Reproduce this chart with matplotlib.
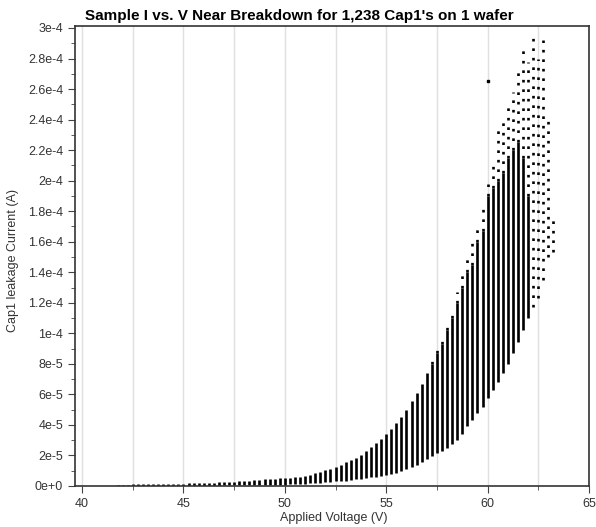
import numpy as np
import matplotlib.pyplot as plt
from matplotlib.ticker import FixedLocator, FixedFormatter

plt.rcParams['font.family'] = ['Liberation Sans', 'DejaVu Sans']

# -------------------------------
# Data (currents in uA)
# each voltage step: lowest reading, top of the dense band, highest reading
# -------------------------------
volts = [41.75, 42.00, 42.25, 42.50, 42.75, 43.00, 43.25, 43.50, 43.75, 44.00,
         44.25, 44.50, 44.75, 45.00, 45.25, 45.50, 45.75, 46.00, 46.25, 46.50,
         46.75, 47.00, 47.25, 47.50, 47.75, 48.00, 48.25, 48.50, 48.75, 49.00,
         49.25, 49.50, 49.75, 50.00, 50.25, 50.50, 50.75, 51.00, 51.25, 51.50,
         51.75, 52.00, 52.25, 52.50, 52.75, 53.00, 53.25, 53.50, 53.75, 54.00,
         54.25, 54.50, 54.75, 55.00, 55.25, 55.50, 55.75, 56.00, 56.25, 56.50,
         56.75, 57.00, 57.25, 57.50, 57.75, 58.00, 58.25, 58.50, 58.75, 59.00,
         59.25, 59.50, 59.75, 60.00, 60.25, 60.50, 60.75, 61.00, 61.25, 61.50,
         61.75, 62.00, 62.25, 62.50, 62.75, 63.00, 63.25]

low_ua = [0.3, 0.3, 0.3, 0.3, 0.3, 0.3, 0.3, 0.3, 0.3, 0.3,
          0.3, 0.3, 0.3, 0.3, 0.3, 0.3, 0.3, 0.3, 0.3, 0.3,
          0.3, 0.4, 0.4, 0.4, 0.4, 0.4, 0.4, 0.5, 0.5, 0.5,
          0.5, 0.6, 0.7, 0.8, 1.0, 1.2, 1.4, 1.6, 1.8, 2.0,
          2.2, 2.4, 2.7, 3.0, 3.3, 3.6, 4.0, 4.4, 4.8, 5.2,
          5.6, 6.0, 6.5, 7.0, 7.8, 8.8, 10.0, 11.2, 12.5, 14.0,
          15.8, 17.5, 19.5, 21.5, 23.0, 25.0, 27.5, 30.0, 34.0, 39.0,
          43.0, 48.0, 52.0, 57.5, 63.0, 68.0, 74.0, 80.0, 87.0, 94.0,
          102.0, 110.0, 117.0, 123.0, 135.0, 150.0, 153.0]

dense_ua = [0.9, 0.9, 0.9, 1.0, 1.0, 1.0, 1.0, 1.0, 1.1, 1.1,
            1.1, 1.2, 1.2, 1.3, 1.7, 1.8, 1.9, 2.0, 2.1, 2.2,
            2.3, 2.5, 2.7, 2.9, 3.1, 3.3, 3.5, 3.7, 4.0, 4.3,
            4.5, 4.7, 5.0, 5.2, 5.5, 5.8, 6.1, 6.6, 7.5, 8.4,
            9.2, 10.3, 11.4, 12.5, 14.0, 15.4, 16.8, 18.6, 20.6, 22.8,
            25.3, 28.0, 31.0, 34.0, 37.5, 41.0, 45.0, 50.0, 55.5, 61.0,
            67.0, 74.0, 80.0, 87.0, 93.0, 102.0, 110.0, 120.0, 130.0, 140.0,
            145.0, 160.0, 167.0, 190.0, 195.0, 200.0, 205.0, 215.0, 220.0, 225.0,
            215.0, 190.0, 117.0, 123.0, 135.0, 150.0, 153.0]

high_ua = [0.9, 0.9, 0.9, 1.0, 1.0, 1.0, 1.0, 1.0, 1.1, 1.1,
           1.1, 1.2, 1.2, 1.3, 1.7, 1.8, 1.9, 2.0, 2.1, 2.2,
           2.3, 2.5, 2.7, 2.9, 3.1, 3.3, 3.5, 3.7, 4.0, 4.3,
           4.5, 4.7, 5.0, 5.2, 5.5, 5.8, 6.1, 6.6, 7.5, 8.4,
           9.2, 10.3, 11.4, 12.5, 14.0, 15.4, 16.8, 18.6, 20.6, 22.8,
           25.3, 28.0, 31.0, 34.0, 37.5, 41.0, 45.0, 50.0, 55.5, 61.0,
           67.0, 74.0, 82.0, 92.0, 98.0, 107.0, 116.0, 127.0, 138.0, 150.0,
           160.0, 172.0, 185.0, 198.0, 212.0, 234.0, 242.0, 250.0, 258.0, 275.0,
           286.0, 278.0, 294.0, 280.0, 292.0, 239.0, 175.0]

# single stray reading
outlier_v = [60.0]
outlier_ua = [265.0]

ytick_vals = [0, 2e-5, 4e-5, 6e-5, 8e-5, 1e-4, 1.2e-4, 1.4e-4, 1.6e-4,
              1.8e-4, 2e-4, 2.2e-4, 2.4e-4, 2.6e-4, 2.8e-4, 3e-4]
ytick_labels = ['0e+0', '2e-5', '4e-5', '6e-5', '8e-5', '1e-4', '1.2e-4',
                '1.4e-4', '1.6e-4', '1.8e-4', '2e-4', '2.2e-4', '2.4e-4',
                '2.6e-4', '2.8e-4', '3e-4']
xtick_vals = [40, 45, 50, 55, 60, 65]

low = np.array(low_ua) * 1e-6
dense = np.array(dense_ua) * 1e-6
high = np.array(high_ua) * 1e-6

# -------------------------------
# Plot
# -------------------------------
fig = plt.figure(figsize=(5.96, 5.27), dpi=100)
ax = fig.add_axes([0.1258, 0.0778, 0.8624, 0.8729])

ax.vlines(volts, low, dense, colors='black', lw=1.9)
ax.vlines(volts, dense, high, colors='black', lw=1.9, linestyles=(0, (1, 2.6)))
ax.plot(outlier_v, np.array(outlier_ua) * 1e-6, 's', ms=2, color='black')

ax.set_xlim(39.65, 65)
ax.set_ylim(0, 3.013e-4)

ax.xaxis.set_major_locator(FixedLocator(xtick_vals))
ax.xaxis.set_minor_locator(FixedLocator([42.5, 47.5, 52.5, 57.5, 62.5]))
ax.yaxis.set_major_locator(FixedLocator(ytick_vals))
ax.yaxis.set_major_formatter(FixedFormatter(ytick_labels))
ax.yaxis.set_minor_locator(FixedLocator([v + 1e-5 for v in ytick_vals[:-1]]))

ax.grid(axis='x', which='both', color='#e0e0e0', lw=1)
ax.set_axisbelow(True)

ax.tick_params(which='major', direction='out', length=5, color='#444444',
               labelsize=9, labelcolor='#333333')
ax.tick_params(which='minor', direction='out', length=3, color='#444444')
for s in ax.spines.values():
    s.set_color('#333333')
    s.set_linewidth(1.2)

fig.text(0.503, 0.97, "Sample I vs. V Near Breakdown for 1,238 Cap1's on 1 wafer",
         ha='center', va='center', fontsize=11, fontweight='bold')
fig.text(0.56, 0.017, 'Applied Voltage (V)', ha='center', va='center',
         fontsize=9, color='#333333')
fig.text(0.022, 0.505, 'Cap1 leakage Current (A)', ha='center', va='center',
         rotation=90, fontsize=9, color='#333333')

plt.savefig('out.png', dpi=100)
